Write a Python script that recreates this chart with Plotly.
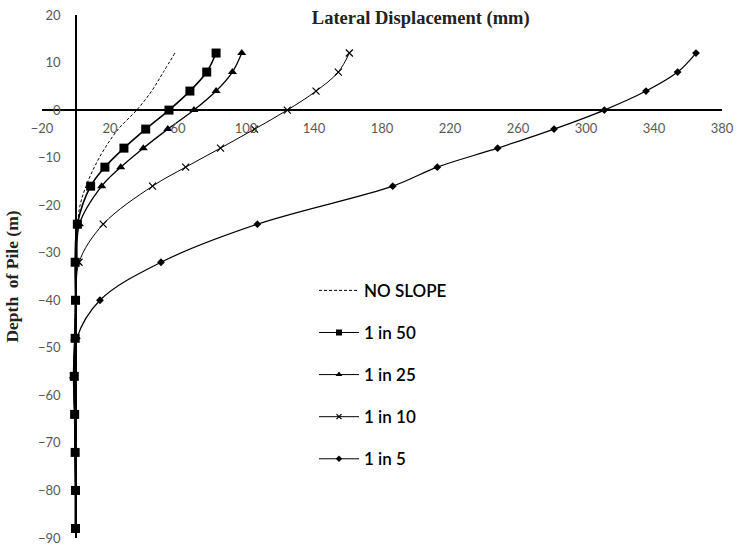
import plotly.graph_objects as go

depth = [12, 8, 4, 0, -4, -8, -12, -16, -24, -32, -40, -48, -56, -64, -72, -80, -88]
depth_noslope = [12, 8, 4, 0, -4, -8, -12, -16, -20, -24, -32, -40, -48, -56, -64, -72, -80, -88]

no_slope = [58.2, 51.4, 44.5, 35.7, 24.9, 17.0, 10.8, 5.9, 2.4, 1.0, 0.0, -0.3, -0.5, -0.5, -0.3, 0.0, 0.0, 0.0]
s1in50 = [82.4, 76.9, 67.0, 54.7, 41.0, 28.2, 17.0, 8.6, 0.8, -0.5, -0.3, -0.5, -1.0, -0.8, -0.5, -0.3, -0.3]
s1in25 = [97.5, 92.0, 82.4, 69.4, 54.0, 39.6, 26.3, 15.1, 2.0, 0.5, -0.3, -0.8, -1.5, -0.8, -0.5, -0.3, -0.3]
s1in10 = [160.8, 154.3, 141.2, 124.3, 105.0, 85.0, 64.5, 45.0, 16.0, 1.8, 0.2, -0.8, -1.5, -0.8, -0.5, -0.3, -0.3]
s1in5 = [364.7, 353.9, 335.3, 310.8, 281.2, 248.0, 212.5, 186.3, 106.7, 50.0, 14.1, 0.5, -1.0, -0.8, -0.5, -0.3, -0.3]

series_names = ["NO SLOPE", "1 in 50", "1 in 25", "1 in 10", "1 in 5"]

x_ticks = [-20, 20, 60, 100, 140, 180, 220, 260, 300, 340, 380]
y_ticks = [20, 10, 0, -10, -20, -30, -40, -50, -60, -70, -80, -90]

x_range = [-20, 380]
y_range = [-90, 20]

styles = [
    dict(line=dict(color="black", width=1, dash="3px,2px", shape="spline"), marker=None, mode="lines"),
    dict(line=dict(color="black", width=1.6, shape="spline"),
         marker=dict(symbol="square", size=9, color="black"), mode="lines+markers"),
    dict(line=dict(color="black", width=1.3, shape="spline"),
         marker=dict(symbol="triangle-up", size=8, color="black"), mode="lines+markers"),
    dict(line=dict(color="black", width=1, shape="spline"),
         marker=dict(symbol="x-thin", size=7, color="black", line=dict(color="black", width=1.2)),
         mode="lines+markers"),
    dict(line=dict(color="black", width=1.2, shape="spline"),
         marker=dict(symbol="diamond", size=6, color="black"), mode="lines+markers"),
]
legend_markers = [
    None,
    dict(symbol="square", size=6, color="black"),
    dict(symbol="triangle-up", size=6, color="black"),
    dict(symbol="x-thin", size=5, color="black", line=dict(color="black", width=1.2)),
    dict(symbol="diamond", size=5, color="black"),
]

xs = [no_slope, s1in50, s1in25, s1in10, s1in5]
ys = [depth_noslope, depth, depth, depth, depth]

fig = go.Figure()
for i, (name, x, y, st) in enumerate(zip(series_names, xs, ys, styles)):
    kw = dict(x=x, y=y, mode=st["mode"], name=name, line=st["line"], showlegend=False)
    if st["marker"] is not None:
        kw["marker"] = st["marker"]
    fig.add_trace(go.Scatter(**kw))

# legend entries with small symbols, as in the original
for i, (name, st) in enumerate(zip(series_names, styles)):
    line = dict(st["line"])
    line["width"] = 1
    kw = dict(x=[None], y=[None], mode=st["mode"], name=name, line=line,
              legendgroup="g%d" % i, showlegend=True)
    if legend_markers[i] is not None:
        kw["marker"] = legend_markers[i]
    fig.add_trace(go.Scatter(**kw))

y_pos = (0 - y_range[0]) / (y_range[1] - y_range[0])
x_pos = (0 - x_range[0]) / (x_range[1] - x_range[0])

tick_font = dict(family="Lato, Open Sans, sans-serif", size=13, color="#595959")
serif = "Liberation Serif, Times New Roman, serif"

fig.update_layout(
    width=754, height=546,
    margin=dict(l=42, r=32, t=15, b=8, autoexpand=False),
    paper_bgcolor="white", plot_bgcolor="white",
    title=dict(text="<b>Lateral Displacement (mm)</b>", x=0.558, xanchor="center",
               y=0.967, yanchor="middle",
               font=dict(family=serif, size=18.5, color="#222")),
    xaxis=dict(range=x_range, tickvals=x_ticks, showgrid=False, zeroline=False,
               showline=True, linecolor="black", linewidth=1.5,
               anchor="free", position=y_pos, ticks="", tickfont=tick_font,
               ticklabelstandoff=7, ticklabeloverflow="allow", domain=[0, 1],
               automargin=False),
    yaxis=dict(range=y_range, tickvals=y_ticks, showgrid=False, zeroline=False,
               showline=True, linecolor="black", linewidth=1.5,
               anchor="free", position=x_pos, ticks="", tickfont=tick_font,
               ticklabelstandoff=12, ticklabeloverflow="allow", domain=[0, 1],
               automargin=False,
               title=dict(text="<b>Depth  of Pile (m)</b>", standoff=14,
                          font=dict(family=serif, size=17.5, color="#222"))),
    legend=dict(x=0.40, y=0.507, xanchor="left", yanchor="top",
                bgcolor="rgba(0,0,0,0)", itemwidth=40, tracegroupgap=17,
                traceorder="grouped",
                font=dict(family="Lato, Open Sans, sans-serif", size=17,
                          color="black", weight=600)),
    showlegend=True,
)

fig.write_html("out.html")
